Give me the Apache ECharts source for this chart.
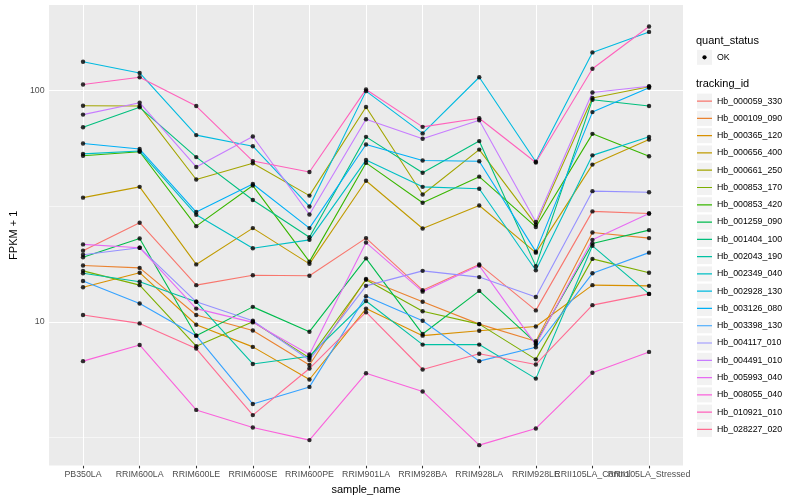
<!DOCTYPE html>
<html>
<head>
<meta charset="utf-8">
<script src="https://cdn.jsdelivr.net/npm/echarts@6/dist/echarts.min.js"></script>
<style>html,body{margin:0;padding:0;background:#fff}#c{width:800px;height:500px}</style>
</head>
<body>
<div id="c"></div>
<script>
// ---- data ----
const categories = ['PB350LA','RRIM600LA','RRIM600LE','RRIM600SE','RRIM600PE','RRIM901LA','RRIM928BA','RRIM928LA','RRIM928LE','RRII105LA_Control','RRII105LA_Stressed'];
const yTicks = [10, 100];
const yMinor = [3.162, 31.62];

const hb_000059_330 = [20.3, 26.8, 14.4, 15.9, 15.8, 23.0, 13.7, 17.7, 11.2, 30.0, 29.4];
const hb_000109_090 = [17.5, 17.1, 10.7, 9.17, 6.50, 15.3, 12.2, 9.77, 8.24, 24.3, 23.0];
const hb_000365_120 = [14.1, 16.3, 9.71, 7.79, 5.63, 11.4, 8.71, 9.15, 9.54, 14.4, 14.3];
const hb_000656_400 = [34.4, 38.3, 17.7, 25.4, 17.8, 40.7, 25.3, 31.8, 19.9, 47.8, 61.4];
const hb_000661_250 = [85.8, 85.6, 41.2, 48.4, 35.1, 84.8, 35.5, 55.5, 26.3, 92.7, 103.7];
const hb_000853_170 = [16.6, 14.4, 7.84, 10.0, 6.98, 15.2, 11.1, 9.77, 6.88, 18.7, 16.3];
const hb_000853_420 = [52.2, 54.3, 25.9, 38.8, 18.2, 48.6, 32.7, 42.4, 25.7, 64.9, 51.9];
const hb_001259_090 = [19.0, 22.9, 8.71, 11.6, 9.06, 18.8, 8.85, 13.6, 8.10, 21.8, 24.9];
const hb_001404_100 = [69.3, 84.5, 51.5, 33.6, 23.2, 63.0, 44.1, 60.4, 17.4, 91.2, 85.6];
const hb_002043_190 = [16.2, 14.9, 12.2, 6.57, 7.10, 12.3, 7.97, 7.97, 5.68, 21.3, 13.2];
const hb_002349_040 = [53.2, 54.7, 29.0, 20.8, 22.6, 50.0, 38.3, 37.6, 16.7, 52.4, 63.0];
const hb_002928_130 = [133, 119, 64.1, 57.4, 31.5, 99.3, 65.2, 114, 49.2, 146, 179];
const hb_003126_080 = [59.0, 55.8, 29.8, 39.4, 25.4, 58.4, 49.8, 49.4, 20.1, 80.6, 102.7];
const hb_003398_130 = [15.0, 12.0, 8.71, 4.41, 5.23, 12.9, 10.1, 6.76, 7.76, 16.2, 19.9];
const hb_004117_010 = [19.5, 20.9, 12.2, 10.1, 6.84, 14.3, 16.6, 15.6, 12.8, 36.7, 36.3];
const hb_004491_010 = [78.6, 88.5, 46.7, 63.2, 29.1, 75.1, 61.8, 74.3, 27.0, 98.0, 104.3];
const hb_005993_040 = [21.6, 20.9, 11.4, 9.94, 7.22, 22.0, 13.5, 17.5, 7.97, 22.6, 29.4];
const hb_008055_040 = [6.76, 7.94, 4.16, 3.49, 3.08, 5.99, 5.00, 2.93, 3.46, 6.02, 7.41];
const hb_010921_010 = [106, 114, 85.6, 49.5, 44.4, 101, 69.6, 75.8, 48.8, 124, 189];
const hb_028227_020 = [10.7, 9.84, 7.66, 3.95, 6.28, 11.0, 6.22, 7.27, 6.54, 11.8, 13.2];

const seriesNames = ['Hb_000059_330','Hb_000109_090','Hb_000365_120','Hb_000656_400','Hb_000661_250','Hb_000853_170','Hb_000853_420','Hb_001259_090','Hb_001404_100','Hb_002043_190','Hb_002349_040','Hb_002928_130','Hb_003126_080','Hb_003398_130','Hb_004117_010','Hb_004491_010','Hb_005993_040','Hb_008055_040','Hb_010921_010','Hb_028227_020'];
const seriesValues = [hb_000059_330, hb_000109_090, hb_000365_120, hb_000656_400, hb_000661_250, hb_000853_170, hb_000853_420, hb_001259_090, hb_001404_100, hb_002043_190, hb_002349_040, hb_002928_130, hb_003126_080, hb_003398_130, hb_004117_010, hb_004491_010, hb_005993_040, hb_008055_040, hb_010921_010, hb_028227_020];

// ---- style ----
const palette = ['#F8766D','#EA8331','#D89000','#C09B00','#A3A500','#7CAE00','#39B600','#00BB4E','#00BF7D','#00C1A3','#00BFC4','#00BAE0','#00B0F6','#35A2FF','#9590FF','#C77CFF','#E76BF3','#FA62DB','#FF62BC','#FF6C91'];
const FONT = 'Liberation Sans, Arial, Helvetica, sans-serif';
const idx = categories.map((_, i) => i);
const idxEven = idx.filter(i => i % 2 === 0);
const idxOdd = idx.filter(i => i % 2 === 1);

const chart = echarts.init(document.getElementById('c'), null, {renderer: 'canvas'});

const lineSeries = seriesNames.map((name, k) => ({
  name: name,
  type: 'line',
  data: seriesValues[k].map((v, i) => [i, v]),
  showSymbol: false,
  symbol: 'none',
  z: 2,
  color: palette[k],
  lineStyle: {width: 1.1, color: palette[k]},
  itemStyle: {color: palette[k]},
  animation: false,
  silent: true
}));

const pointData = [];
seriesValues.forEach(arr => arr.forEach((v, i) => pointData.push([i, v])));

const majorLine = {color: '#FFFFFF', width: 1.07, type: 'solid'};
const minorLine = {color: '#FFFFFF', width: 0.55, type: 'solid'};

const gridSeries = {
  name: '_grid',
  type: 'line',
  data: [],
  z: 1,
  silent: true,
  animation: false,
  markLine: {
    silent: true,
    symbol: 'none',
    z: 1,
    animation: false,
    label: {show: false},
    emphasis: {disabled: true},
    data: [
      ...yMinor.map(v => ({yAxis: v, lineStyle: minorLine})),
      ...yTicks.map(v => ({yAxis: v, lineStyle: majorLine})),
      ...idx.map(i => ({xAxis: i, lineStyle: majorLine}))
    ]
  }
};

const pointSeries = {
  name: 'OK',
  type: 'scatter',
  data: pointData,
  symbol: 'circle',
  symbolSize: 4.4,
  itemStyle: {color: '#000000'},
  z: 5,
  silent: true,
  animation: false
};

const legendBase = {
  orient: 'vertical',
  left: 697,
  top: 93.6,
  itemWidth: 15,
  itemHeight: 15,
  itemGap: 2.28,
  selectedMode: false,
  data: seriesNames,
  padding: 0
};

function makeXAxis(vals, withName) {
  const ax = {
    type: 'value',
    position: 'bottom',
    offset: 0,
    min: -0.6,
    max: 10.6,
    axisLine: {show: false},
    axisTick: {show: true, customValues: vals, length: 2.75, lineStyle: {color: '#333333', width: 1.07}},
    axisLabel: {customValues: vals, formatter: v => categories[Math.round(v)], color: '#4D4D4D', fontSize: 8.8, fontFamily: FONT, margin: 4.5, hideOverlap: false, showMinLabel: true, showMaxLabel: true},
    splitLine: {show: false}
  };
  if (withName) {
    ax.name = 'sample_name';
    ax.nameLocation = 'middle';
    ax.nameGap = 14;
    ax.nameTextStyle = {color: '#000000', fontSize: 11, fontFamily: FONT};
  }
  return ax;
}

chart.setOption({
  animation: false,
  grid: {left: 40, right: 117, top: 5, bottom: 31.7, show: true, backgroundColor: '#EBEBEB', borderWidth: 0, containLabel: false},
  xAxis: [makeXAxis(idxEven, true), makeXAxis(idxOdd, false)],
  yAxis: {
    type: 'log',
    logBase: 10,
    min: 2.39,
    max: 234,
    axisLine: {show: false},
    axisTick: {show: true, customValues: yTicks, length: 2.75, lineStyle: {color: '#333333', width: 1.07}},
    axisLabel: {customValues: yTicks, color: '#4D4D4D', fontSize: 8.8, fontFamily: FONT, margin: 4.5, showMinLabel: true, showMaxLabel: true},
    splitLine: {show: false},
    minorSplitLine: {show: false},
    name: 'FPKM + 1',
    nameLocation: 'middle',
    nameGap: 22,
    nameTextStyle: {color: '#000000', fontSize: 11, fontFamily: FONT}
  },
  legend: [
    Object.assign({}, legendBase, {
      icon: 'rect',
      itemStyle: {color: '#F2F2F2', borderWidth: 0},
      lineStyle: {width: 0},
      textStyle: {color: 'rgba(0,0,0,0)', fontSize: 8.8, fontFamily: FONT},
      z: 3
    }),
    Object.assign({}, legendBase, {
      icon: 'path://M0,0h0.01v0.01h-0.01z M0,6.9h15v1.2h-15z M14.99,14.99h0.01v0.01h-0.01z',
      textStyle: {color: '#000000', fontSize: 8.8, fontFamily: FONT},
      z: 4
    })
  ],
  graphic: [
    {type: 'text', x: 696, y: 40.7, style: {text: 'quant_status', fill: '#000', fontSize: 11, fontFamily: FONT, verticalAlign: 'middle'}},
    {type: 'rect', shape: {x: 697, y: 49.8, width: 15, height: 15}, style: {fill: '#F2F2F2'}},
    {type: 'circle', shape: {cx: 704.5, cy: 57.3, r: 2.1}, style: {fill: '#000'}},
    {type: 'text', x: 717, y: 57.3, style: {text: 'OK', fill: '#000', fontSize: 8.8, fontFamily: FONT, verticalAlign: 'middle'}},
    {type: 'text', x: 696, y: 84.3, style: {text: 'tracking_id', fill: '#000', fontSize: 11, fontFamily: FONT, verticalAlign: 'middle'}}
  ],
  series: [gridSeries, ...lineSeries, pointSeries]
});
</script>
</body>
</html>
